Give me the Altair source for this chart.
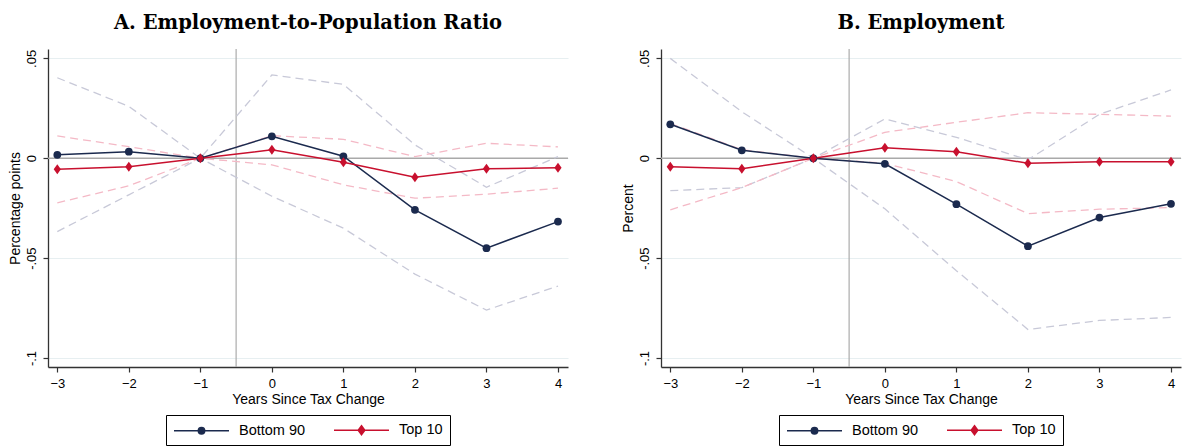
import altair as alt
import pandas as pd

years = [-3, -2, -1, 0, 1, 2, 3, 4]
series_names = ["Bottom 90", "Top 10"]

# Panel A: Employment-to-Population Ratio
a_b90_est = [0.0017, 0.0033, 0.0, 0.0110, 0.0010, -0.0258, -0.0450, -0.0317]
a_b90_hi = [0.0403, 0.0260, 0.0, 0.0417, 0.0370, 0.0067, -0.0145, 0.0008]
a_b90_lo = [-0.0367, -0.0183, 0.0, -0.0190, -0.0350, -0.0580, -0.0760, -0.0640]
a_t10_est = [-0.0055, -0.0042, 0.0, 0.0042, -0.0020, -0.0095, -0.0053, -0.0048]
a_t10_hi = [0.0112, 0.0058, 0.0, 0.0113, 0.0095, 0.0008, 0.0075, 0.0057]
a_t10_lo = [-0.0223, -0.0138, 0.0, -0.0033, -0.0133, -0.0200, -0.0180, -0.0150]

# Panel B: Employment
b_b90_est = [0.0170, 0.0040, 0.0, -0.0028, -0.0230, -0.0440, -0.0297, -0.0228]
b_b90_hi = [0.0500, 0.0233, 0.0, 0.0197, 0.0105, -0.0008, 0.0220, 0.0342]
b_b90_lo = [-0.0162, -0.0147, 0.0, -0.0253, -0.0563, -0.0857, -0.0812, -0.0797]
b_t10_est = [-0.0042, -0.0052, 0.0, 0.0053, 0.0032, -0.0025, -0.0018, -0.0018]
b_t10_hi = [0.0174, 0.0043, 0.0, 0.0130, 0.0180, 0.0228, 0.0220, 0.0211]
b_t10_lo = [-0.0258, -0.0147, 0.0, -0.0025, -0.0117, -0.0277, -0.0255, -0.0247]

y_ticks = [-0.1, -0.05, 0, 0.05]
x_ticks = years

NAVY = "#1b2a4e"
RED = "#c8102e"
NAVY_CI = "#c8c9d8"
RED_CI = "#f4b9c6"

line_domain = ["Bottom 90", "Top 10", "Bottom 90 CI", "Top 10 CI"]
line_range = [NAVY, RED, NAVY_CI, RED_CI]

# legend symbols: a short line with the marker in its middle
circle_leg = "M-1,0H6.857M2.472,0A0.457,0.457,0,1,0,3.386,0A0.457,0.457,0,1,0,2.472,0Z"
diamond_leg = "M-1,0H6.857M2.929,-0.643L3.4,0L2.929,0.643L2.458,0Z"
diamond_mark = "M0,-1L0.72,0L0,1L-0.72,0Z"

FONT = "Liberation Sans"


def make_df(b_est, b_lo, b_hi, t_est, t_lo, t_hi):
    rows = []
    for name, est, lo, hi in [("Bottom 90", b_est, b_lo, b_hi), ("Top 10", t_est, t_lo, t_hi)]:
        for yr, e, l, h in zip(years, est, lo, hi):
            rows.append({"year": yr, "series": name, "ci": name + " CI", "est": e, "lo": l, "hi": h})
    return pd.DataFrame(rows)


def panel(df, title, ytitle):
    xs = alt.Scale(domain=[-3.13, 4.14], nice=False, zero=False)
    ys = alt.Scale(domain=[-0.1045, 0.0547], nice=False, zero=False)
    xax = alt.Axis(values=x_ticks, grid=False, title="Years Since Tax Change", format="d")
    yax = alt.Axis(
        values=y_ticks,
        grid=True,
        title=ytitle,
        labelAngle=-90,
        labelAlign="center",
        labelBaseline="bottom",
        labelExpr="datum.value == 0 ? '0' : (datum.value < 0 ? '-' : '') + replace(format(abs(datum.value), '.2~f'), '0.', '.')",
    )
    cscale = alt.Scale(domain=line_domain, range=line_range)
    base = alt.Chart(df)

    zero = alt.Chart(pd.DataFrame({"y": [0.0]})).mark_rule(color="#a9a9a9", strokeWidth=1.7).encode(
        y=alt.Y("y:Q", scale=ys, axis=yax)
    )
    vline = alt.Chart(pd.DataFrame({"x": [-0.5]})).mark_rule(color="#ababab", strokeWidth=1.2).encode(
        x=alt.X("x:Q", scale=xs, axis=xax)
    )
    ci_hi = base.mark_line(strokeDash=[8, 5], strokeWidth=1.3).encode(
        x=alt.X("year:Q", scale=xs, axis=xax),
        y=alt.Y("hi:Q", scale=ys, axis=yax),
        color=alt.Color("ci:N", scale=cscale, legend=None),
    )
    ci_lo = base.mark_line(strokeDash=[8, 5], strokeWidth=1.3).encode(
        x=alt.X("year:Q", scale=xs, axis=xax),
        y=alt.Y("lo:Q", scale=ys, axis=yax),
        color=alt.Color("ci:N", scale=cscale, legend=None),
    )
    est_line = base.mark_line(strokeWidth=1.5).encode(
        x=alt.X("year:Q", scale=xs, axis=xax),
        y=alt.Y("est:Q", scale=ys, axis=yax),
        color=alt.Color("series:N", scale=cscale, legend=None),
    )
    pts_b = base.transform_filter("datum.series == 'Bottom 90'").mark_point(
        filled=True, opacity=1, size=60, shape="circle"
    ).encode(
        x=alt.X("year:Q", scale=xs, axis=xax),
        y=alt.Y("est:Q", scale=ys, axis=yax),
        color=alt.Color("series:N", scale=cscale, legend=None),
    )
    pts_t = base.transform_filter("datum.series == 'Top 10'").mark_point(
        filled=True, opacity=1, size=100, shape=diamond_mark
    ).encode(
        x=alt.X("year:Q", scale=xs, axis=xax),
        y=alt.Y("est:Q", scale=ys, axis=yax),
        color=alt.Color("series:N", scale=cscale, legend=None),
    )
    leg = alt.Legend(
        title=None,
        orient="none",
        legendX=118,
        legendY=366,
        direction="horizontal",
        strokeColor="black",
        fillColor="white",
        padding=7,
        labelFont=FONT,
        labelFontSize=14.5,
        labelColor="black",
        symbolSize=196,
        symbolStrokeWidth=1.5,
        columnPadding=25,
        labelOffset=50,
    )
    legend_layer = base.transform_filter("false").mark_point(filled=True, opacity=1, strokeWidth=1.5).encode(
        x=alt.X("year:Q", scale=xs, axis=xax),
        y=alt.Y("est:Q", scale=ys, axis=yax),
        fill=alt.Fill("series:N", scale=alt.Scale(domain=series_names, range=[NAVY, RED]), legend=leg),
        stroke=alt.Stroke("series:N", scale=alt.Scale(domain=series_names, range=[NAVY, RED]), legend=leg),
        shape=alt.Shape("series:N", scale=alt.Scale(domain=series_names, range=[circle_leg, diamond_leg]), legend=leg),
    )
    return alt.layer(zero, vline, ci_hi, ci_lo, est_line, pts_b, pts_t, legend_layer).properties(
        width=520,
        height=318,
        title=alt.TitleParams(
            text=title,
            font="DejaVu Serif",
            fontSize=19.5,
            fontWeight="bold",
            color="black",
            anchor="middle",
            frame="group",
            offset=15,
        ),
    )


df_a = make_df(a_b90_est, a_b90_lo, a_b90_hi, a_t10_est, a_t10_lo, a_t10_hi)
df_b = make_df(b_b90_est, b_b90_lo, b_b90_hi, b_t10_est, b_t10_lo, b_t10_hi)

pa = panel(df_a, "A. Employment-to-Population Ratio", "Percentage points")
pb = panel(df_b, "B. Employment", "Percent")

chart = (
    alt.hconcat(pa, pb, spacing=52)
    .resolve_scale(fill="independent", stroke="independent", shape="independent", color="independent",
                   x="independent", y="independent")
    .resolve_legend(fill="independent", stroke="independent", shape="independent")
    .properties(padding={"left": 0, "top": 4, "right": 0, "bottom": 0}, background="white")
    .configure_view(stroke=None)
    .configure_axis(
        labelFont=FONT,
        labelFontSize=13,
        labelColor="black",
        titleFont=FONT,
        titleFontSize=14,
        titleFontWeight="normal",
        titleColor="black",
        domainColor="#333333",
        domainWidth=1.3,
        tickColor="#333333",
        tickSize=5,
        tickWidth=1.2,
        gridColor="#e7eff1",
        gridWidth=1,
        labelPadding=5,
    )
    .configure_axisY(titlePadding=3)
    .configure_axisX(titlePadding=2)
)

chart.save("out.html", embed_options={"renderer": "svg", "actions": False})
